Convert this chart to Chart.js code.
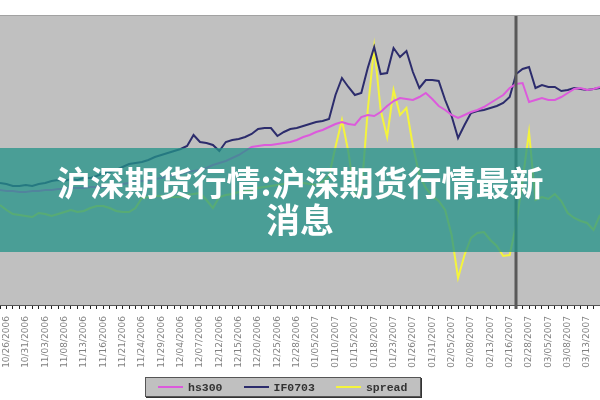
<!DOCTYPE html>
<html>
<head>
<meta charset="utf-8">
<script src="https://cdn.jsdelivr.net/npm/chart.js@4.4.0/dist/chart.umd.min.js"></script>
<style>
  html, body { margin: 0; padding: 0; background: #fff; }
  #wrap { position: relative; width: 600px; height: 400px; overflow: hidden; }
  #chart { position: absolute; left: 0; top: 0; }
  #banner {
    position: absolute; left: 0; top: 148px; width: 600px; height: 104px;
    background: rgba(35, 147, 136, 0.75);
    display: flex; align-items: center; justify-content: center;
  }
  #banner span {
    width: 500px; text-align: center; color: #fff;
    font-family: "Noto Sans CJK SC", sans-serif; font-weight: 700;
    font-size: 34px; line-height: 37px;
  }
  #legend {
    position: absolute; left: 145px; top: 377px; width: 262px; height: 18px;
    background: #c0c0c0; border: 1px solid #555; box-shadow: 1px 1px 0 #333;
    display: flex; align-items: center; padding-left: 12px; box-sizing: content-box;
    font-family: "Liberation Mono", monospace; font-weight: 700; font-size: 11.5px; color: #333;
  }
  #legend .item { display: flex; align-items: center; margin-right: 21px; }
  #legend .swatch { width: 25px; height: 2px; margin-right: 5px; }
</style>
</head>
<body>
<div id="wrap">
  <canvas id="chart" width="600" height="400"></canvas>
  <div id="banner"><span>沪深期货行情:沪深期货行情最新消息</span></div>
  <div id="legend"></div>
</div>
<script>
// tick labels, one for every third trading day
const dateLabels = [
  '10/26/2006', '10/31/2006', '11/03/2006', '11/08/2006', '11/13/2006', '11/16/2006',
  '11/21/2006', '11/24/2006', '11/29/2006', '12/04/2006', '12/07/2006', '12/12/2006',
  '12/15/2006', '12/20/2006', '12/25/2006', '12/28/2006', '01/05/2007', '01/10/2007',
  '01/15/2007', '01/18/2007', '01/23/2007', '01/26/2007', '01/31/2007', '02/05/2007',
  '02/08/2007', '02/13/2007', '02/16/2007', '02/28/2007', '03/05/2007', '03/08/2007',
  '03/13/2007'
];

// index points
const hs300 = [
  1356, 1350, 1350, 1344, 1344, 1350, 1350, 1356, 1356, 1362,
  1362, 1368, 1368, 1368, 1374, 1374, 1374, 1380, 1386, 1392,
  1398, 1404, 1410, 1416, 1422, 1428, 1440, 1446, 1452, 1464,
  1470, 1476, 1488, 1506, 1518, 1530, 1548, 1566, 1590, 1614,
  1620, 1626, 1626, 1632, 1638, 1644, 1656, 1674, 1686, 1704,
  1716, 1734, 1752, 1764, 1752, 1746, 1794, 1806, 1800, 1824,
  1860, 1890, 1908, 1902, 1896, 1914, 1938, 1902, 1860, 1836,
  1806, 1788, 1806, 1824, 1836, 1854, 1878, 1902, 1926, 1968,
  1992, 1998, 1884, 1896, 1908, 1896, 1896, 1914, 1938, 1962,
  1968, 1956, 1962, 1974
];

const if0703 = [
  1398, 1392, 1380, 1380, 1386, 1380, 1392, 1398, 1410, 1416,
  1410, 1422, 1416, 1428, 1428, 1440, 1458, 1464, 1476, 1494,
  1512, 1518, 1524, 1536, 1554, 1566, 1578, 1590, 1602, 1620,
  1686, 1644, 1638, 1626, 1590, 1644, 1656, 1662, 1674, 1692,
  1722, 1728, 1728, 1680, 1704, 1722, 1728, 1740, 1752, 1764,
  1770, 1782, 1926, 2028, 1974, 1926, 1938, 2088, 2214, 2052,
  2058, 2208, 2154, 2190, 2064, 1968, 2016, 2016, 2010, 1896,
  1800, 1668, 1746, 1818, 1830, 1836, 1848, 1860, 1878, 1914,
  2052, 2082, 2094, 1968, 1986, 1974, 1974, 1950, 1956, 1968,
  1962, 1956, 1962, 1968
];

const spread = [
  52, 42, 34, 32, 30, 28, 36, 34, 30, 34,
  38, 42, 38, 40, 46, 50, 50, 46, 40, 38,
  38, 46, 66, 68, 70, 70, 68, 68, 68, 72,
  74, 76, 62, 46, 68, 72, 74, 78, 80, 82,
  86, 88, 90, 92, 94, 96, 98, 96, 94, 92,
  98, 110, 168, 222, 158, 70, 72, 242, 368, 242,
  188, 282, 232, 246, 170, 112, 86, 70, 60, 42,
  -8, -94, -48, -14, -4, -2, -18, -30, -50, -48,
  12, 102, 198, 62, 68, 64, 74, 60, 36, 26,
  20, 16, 2, 32
];

const markerIndex = 80;

const days = hs300.map((_, i) => i);

const backdrop = {
  id: 'backdrop',
  beforeDraw(chart) {
    const { ctx, chartArea: a } = chart;
    ctx.save();
    ctx.fillStyle = '#c0c0c0';
    ctx.fillRect(a.left, a.top, a.right - a.left, a.bottom - a.top);
    ctx.fillStyle = '#a2a2a2';
    ctx.fillRect(a.left, a.top - 1, a.right - a.left, 1);
    ctx.restore();
  },
  afterDatasetsDraw(chart) {
    const { ctx, chartArea: a } = chart;
    const x = Math.round(chart.scales.x.getPixelForValue(markerIndex));
    ctx.save();
    ctx.strokeStyle = '#595959';
    ctx.lineWidth = 3;
    ctx.beginPath();
    ctx.moveTo(x, a.top);
    ctx.lineTo(x, a.bottom + 4);
    ctx.stroke();
    ctx.restore();
  }
};

const chart = new Chart(document.getElementById('chart'), {
  type: 'line',
  data: {
    labels: days,
    datasets: [
      { label: 'hs300', data: hs300, borderColor: '#dc5adc', yAxisID: 'y' },
      { label: 'IF0703', data: if0703, borderColor: '#2c2c6c', yAxisID: 'y' },
      { label: 'spread', data: spread, borderColor: '#f4f43c', yAxisID: 'y2' },
    ]
  },
  options: {
    responsive: false,
    animation: false,
    layout: { padding: { top: 16, left: 0, right: 0, bottom: 0 } },
    plugins: { legend: { display: false }, tooltip: { enabled: false } },
    elements: { point: { radius: 0 }, line: { borderWidth: 2, tension: 0 } },
    scales: {
      x: {
        type: 'linear', min: 0, max: days.length - 1,
        afterBuildTicks: axis => { axis.ticks = days.map(d => ({ value: d })); },
        afterFit: axis => { axis.height = 95; axis.paddingLeft = 0; axis.paddingRight = 0; },
        grid: { drawOnChartArea: false, drawTicks: true, tickLength: 4, color: '#222' },
        border: { display: true, color: '#555' },
        ticks: {
          autoSkip: false, minRotation: 90, maxRotation: 90, padding: 7,
          color: '#808080', font: { family: 'DejaVu Sans', size: 9 },
          callback: v => ((v - 1) % 3 === 0 ? dateLabels[(v - 1) / 3] : '')
        }
      },
      y: { display: false, min: 666, max: 2400 },
      y2: { display: false, min: -148, max: 430 }
    }
  },
  plugins: [backdrop]
});

// legend box below the axis
const legendEl = document.getElementById('legend');
chart.data.datasets.forEach(ds => {
  const item = document.createElement('div');
  item.className = 'item';
  const sw = document.createElement('div');
  sw.className = 'swatch';
  sw.style.background = ds.borderColor;
  const txt = document.createElement('span');
  txt.textContent = ds.label;
  item.appendChild(sw);
  item.appendChild(txt);
  legendEl.appendChild(item);
});
</script>
</body>
</html>
